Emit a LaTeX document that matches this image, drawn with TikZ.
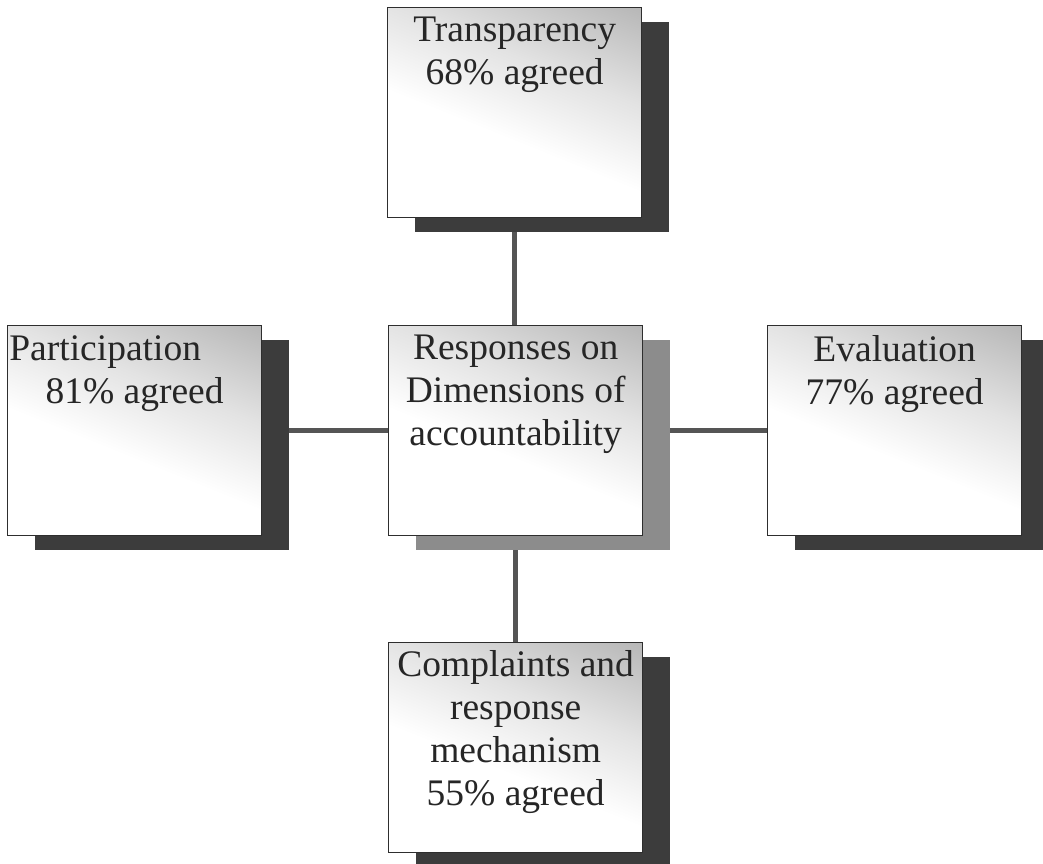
\documentclass[tikz,border=0pt]{standalone}
\usepackage{fontspec}
\setmainfont{Liberation Serif}
\usetikzlibrary{shadows}
\pgfdeclarelayer{background}
\pgfsetlayers{background,main}
\definecolor{shadowdark}{HTML}{3C3C3C}
\definecolor{shadowmid}{HTML}{8C8C8C}
\definecolor{linegray}{HTML}{555555}
\definecolor{boxedge}{HTML}{2E2E2E}
\definecolor{boxtop}{HTML}{B8B8B8}
\pgfdeclareverticalshading{boxshade}{100bp}{color(0bp)=(white); color(44bp)=(white); color(62bp)=(white!60!boxtop); color(82bp)=(boxtop); color(100bp)=(boxtop)}
\begin{document}
\begin{tikzpicture}[x=1pt,y=-1pt,
  dimbox/.style={draw=boxedge, line width=1.3pt, minimum width=254pt, minimum height=210pt,
    inner sep=0pt, anchor=north west, shading=boxshade, shading angle=-22},
  darkshadow/.style={drop shadow={shadow xshift=27pt, shadow yshift=-14pt, fill=shadowdark, opacity=1}},
  midshadow/.style={drop shadow={shadow xshift=27pt, shadow yshift=-14pt, fill=shadowmid, opacity=1}},
  boxtext/.style={anchor=north, align=center, inner sep=0pt,
    font=\fontsize{37.5}{43}\selectfont, text=black!85},
  link/.style={draw=linegray, line width=5pt}]
\useasboundingbox (0,0) rectangle (1043,863);
\begin{pgfonlayer}{background}
\fill[white] (0,0) rectangle (1043,863);
\end{pgfonlayer}
% boxes
\node[dimbox, darkshadow] (T) at (387,7) {};
\node[dimbox, darkshadow] (P) at (7,325) {};
\node[dimbox, midshadow] (C) at (388,325) {};
\node[dimbox, darkshadow] (E) at (767,325) {};
\node[dimbox, darkshadow] (K) at (388,642) {};
% texts
\node[boxtext] (Tt) at ([yshift=-10pt]T.north) {Transparency\\68\% agreed};
\node[boxtext] (Pt) at ([yshift=-10pt]P.north) {Participation\hspace*{59pt}\mbox{}\\81\% agreed};
\node[boxtext] (Ct) at ([yshift=-10pt]C.north) {Responses on\\Dimensions of\\accountability};
\node[boxtext] (Et) at ([yshift=-10pt]E.north) {Evaluation\\77\% agreed};
\node[boxtext] (Kt) at ([yshift=-8pt]K.north) {Complaints and\\response\\mechanism\\55\% agreed};
% connectors
\begin{pgfonlayer}{background}
\draw[link] (T.south) -- (T.south |- C.north);
\draw[link] (C.south) -- (C.south |- K.north);
\draw[link] (P.east) -- (P.east -| C.west);
\draw[link] (C.east) -- (C.east -| E.west);
\end{pgfonlayer}
\end{tikzpicture}
\end{document}
